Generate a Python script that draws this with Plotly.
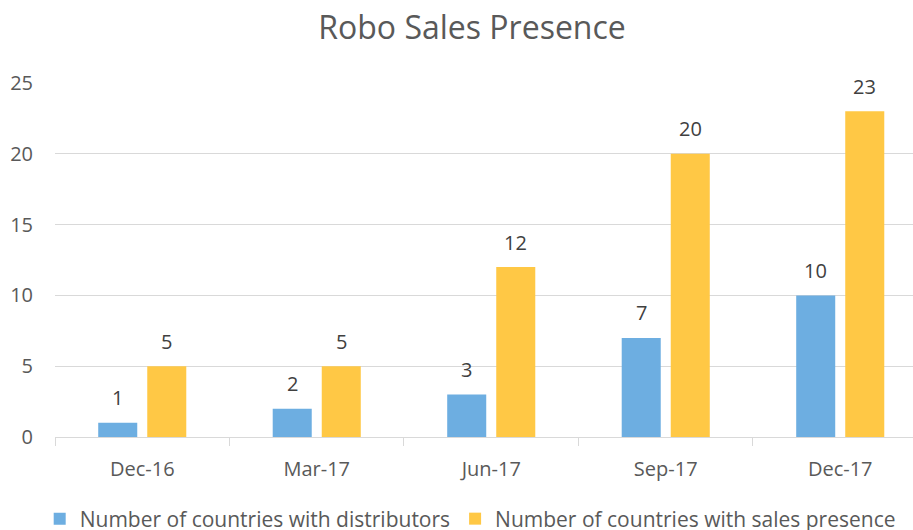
import plotly.graph_objects as go

categories = ["Dec-16", "Mar-17", "Jun-17", "Sep-17", "Dec-17"]
distributors = [1, 2, 3, 7, 10]
sales_presence = [5, 5, 12, 20, 23]
series_names = ["Number of countries with distributors",
                "Number of countries with sales presence"]
y_ticks = [0, 5, 10, 15, 20, 25]

BLUE = "#6DAEE1"
GOLD = "#FFC845"
FONT = "Open Sans"
TXT = "#595959"

fig = go.Figure()
fig.add_trace(go.Bar(x=categories, y=distributors, name=series_names[0],
                     marker=dict(color=BLUE, line=dict(width=0))))
fig.add_trace(go.Bar(x=categories, y=sales_presence, name=series_names[1],
                     marker=dict(color=GOLD, line=dict(width=0))))

# data labels placed above each bar
annotations = []
for vals, shift in ((distributors, -24.5), (sales_presence, 24.5)):
    for c, v in zip(categories, vals):
        annotations.append(dict(x=c, y=v, text=str(v), showarrow=False,
                                xshift=shift, yshift=25, yanchor="middle",
                                font=dict(family=FONT, size=20, color="#404040")))

fig.update_layout(
    width=913, height=530,
    margin=dict(l=55, r=0, t=83, b=93, autoexpand=False),
    paper_bgcolor="white", plot_bgcolor="white",
    barmode="group", bargap=0.438, bargroupgap=0.204,
    title=dict(text="Robo Sales Presence", x=0.517, xanchor="center",
               y=1 - 28 / 530, yanchor="middle",
               font=dict(family=FONT, size=32, color=TXT)),
    font=dict(family=FONT, size=20, color=TXT),
    showlegend=True,
    legend=dict(orientation="h", xref="container", x=0.515, xanchor="center",
                yref="container", y=11 / 530, yanchor="middle",
                font=dict(family=FONT, size=21, color=TXT),
                traceorder="normal"),
    annotations=annotations,
)
fig.update_xaxes(type="category", range=[-0.5, 4.417], automargin=False,
                 showline=True, linecolor="#D9D9D9", linewidth=1,
                 ticks="outside", tickson="boundaries", ticklen=8,
                 tickcolor="#D9D9D9", showgrid=False, ticklabelstandoff=14,
                 tickfont=dict(family=FONT, size=20, color=TXT))
fig.update_yaxes(range=[0, 25], tickvals=y_ticks, showgrid=True, automargin=False,
                 gridcolor="#D9D9D9", gridwidth=1, zeroline=False,
                 showline=False, ticks="", ticklabelstandoff=21,
                 tickfont=dict(family=FONT, size=20, color=TXT))

fig.write_html("out.html", config={"displayModeBar": False},
               post_script="document.body.style.margin='0';document.body.style.overflow='hidden';")
